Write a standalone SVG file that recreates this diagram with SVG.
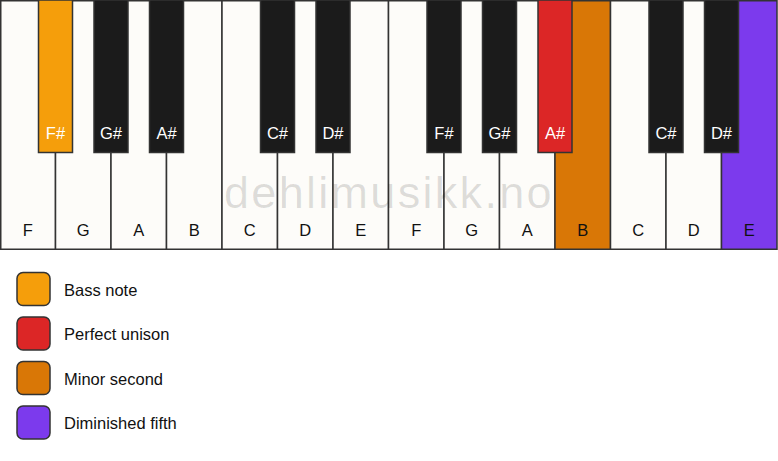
<svg xmlns="http://www.w3.org/2000/svg" width="778" height="461" viewBox="0 0 778 461">
<style>
.w{fill:#fdfcf9;stroke:#333;stroke-width:1.5}
.b{fill:#1b1b1b;stroke:#333;stroke-width:1.5}
.wl{font-family:"Liberation Sans",Arial,sans-serif;font-size:16.5px;fill:#111;text-anchor:middle}
.bl{font-family:"Liberation Sans",Arial,sans-serif;font-size:16.5px;fill:#fff;text-anchor:middle}
.lg{stroke:#333;stroke-width:1.5}
.lt{font-family:"Liberation Sans",Arial,sans-serif;font-size:16.5px;fill:#111}
.wm{font-family:"Liberation Sans",Arial,sans-serif;font-size:45px;fill:#000;fill-opacity:0.13;letter-spacing:2.3px}
</style>
<rect width="778" height="461" fill="#ffffff"/>
<g id="white-keys">
<g id="wk-F1"><rect class="w" x="0.75" y="0.75" width="54.75" height="248.5"/><text class="wl" x="27.75" y="236">F</text></g>
<g id="wk-G1"><rect class="w" x="55.5" y="0.75" width="55.5" height="248.5"/><text class="wl" x="83.25" y="236">G</text></g>
<g id="wk-A1"><rect class="w" x="111" y="0.75" width="55.5" height="248.5"/><text class="wl" x="138.75" y="236">A</text></g>
<g id="wk-B1"><rect class="w" x="166.5" y="0.75" width="55.5" height="248.5"/><text class="wl" x="194.25" y="236">B</text></g>
<g id="wk-C1"><rect class="w" x="222" y="0.75" width="55.5" height="248.5"/><text class="wl" x="249.75" y="236">C</text></g>
<g id="wk-D1"><rect class="w" x="277.5" y="0.75" width="55.5" height="248.5"/><text class="wl" x="305.25" y="236">D</text></g>
<g id="wk-E1"><rect class="w" x="333" y="0.75" width="55.5" height="248.5"/><text class="wl" x="360.75" y="236">E</text></g>
<g id="wk-F2"><rect class="w" x="388.5" y="0.75" width="55.5" height="248.5"/><text class="wl" x="416.25" y="236">F</text></g>
<g id="wk-G2"><rect class="w" x="444" y="0.75" width="55.5" height="248.5"/><text class="wl" x="471.75" y="236">G</text></g>
<g id="wk-A2"><rect class="w" x="499.5" y="0.75" width="55.5" height="248.5"/><text class="wl" x="527.25" y="236">A</text></g>
<g id="wk-B2"><rect class="w" x="555" y="0.75" width="55.5" height="248.5" style="fill:#d97706"/><text class="wl" x="582.75" y="236">B</text></g>
<g id="wk-C2"><rect class="w" x="610.5" y="0.75" width="55.5" height="248.5"/><text class="wl" x="638.25" y="236">C</text></g>
<g id="wk-D2"><rect class="w" x="666" y="0.75" width="55.5" height="248.5"/><text class="wl" x="693.75" y="236">D</text></g>
<g id="wk-E2"><rect class="w" x="721.5" y="0.75" width="55.5" height="248.5" style="fill:#7c3aed"/><text class="wl" x="749.25" y="236">E</text></g>
</g>
<text id="watermark" class="wm" x="224" y="207.5">dehlimusikk.no</text>
<g id="black-keys">
<g id="bk-Fs1"><rect class="b" x="38.5" y="0" width="34" height="152.5" style="fill:#f59e0b"/><text class="bl" x="55.5" y="139">F#</text></g>
<g id="bk-Gs1"><rect class="b" x="94" y="0" width="34" height="152.5"/><text class="bl" x="111" y="139">G#</text></g>
<g id="bk-As1"><rect class="b" x="149.5" y="0" width="34" height="152.5"/><text class="bl" x="166.5" y="139">A#</text></g>
<g id="bk-Cs1"><rect class="b" x="260.5" y="0" width="34" height="152.5"/><text class="bl" x="277.5" y="139">C#</text></g>
<g id="bk-Ds1"><rect class="b" x="316" y="0" width="34" height="152.5"/><text class="bl" x="333" y="139">D#</text></g>
<g id="bk-Fs2"><rect class="b" x="427" y="0" width="34" height="152.5"/><text class="bl" x="444" y="139">F#</text></g>
<g id="bk-Gs2"><rect class="b" x="482.5" y="0" width="34" height="152.5"/><text class="bl" x="499.5" y="139">G#</text></g>
<g id="bk-As2"><rect class="b" x="538" y="0" width="34" height="152.5" style="fill:#dc2626"/><text class="bl" x="555" y="139">A#</text></g>
<g id="bk-Cs2"><rect class="b" x="649" y="0" width="34" height="152.5"/><text class="bl" x="666" y="139">C#</text></g>
<g id="bk-Ds2"><rect class="b" x="704.5" y="0" width="34" height="152.5"/><text class="bl" x="721.5" y="139">D#</text></g>
</g>
<g id="legend">
<g id="lg-bass"><rect class="lg" x="17" y="272.5" width="33" height="33" rx="6" fill="#f59e0b"/><text class="lt" x="64" y="295.5">Bass note</text></g>
<g id="lg-unison"><rect class="lg" x="17" y="317" width="33" height="33" rx="6" fill="#dc2626"/><text class="lt" x="64" y="340">Perfect unison</text></g>
<g id="lg-minor2"><rect class="lg" x="17" y="361.5" width="33" height="33" rx="6" fill="#d97706"/><text class="lt" x="64" y="384.5">Minor second</text></g>
<g id="lg-dim5"><rect class="lg" x="17" y="406" width="33" height="33" rx="6" fill="#7c3aed"/><text class="lt" x="64" y="429">Diminished fifth</text></g>
</g>
<g id="connectors"></g>
</svg>
